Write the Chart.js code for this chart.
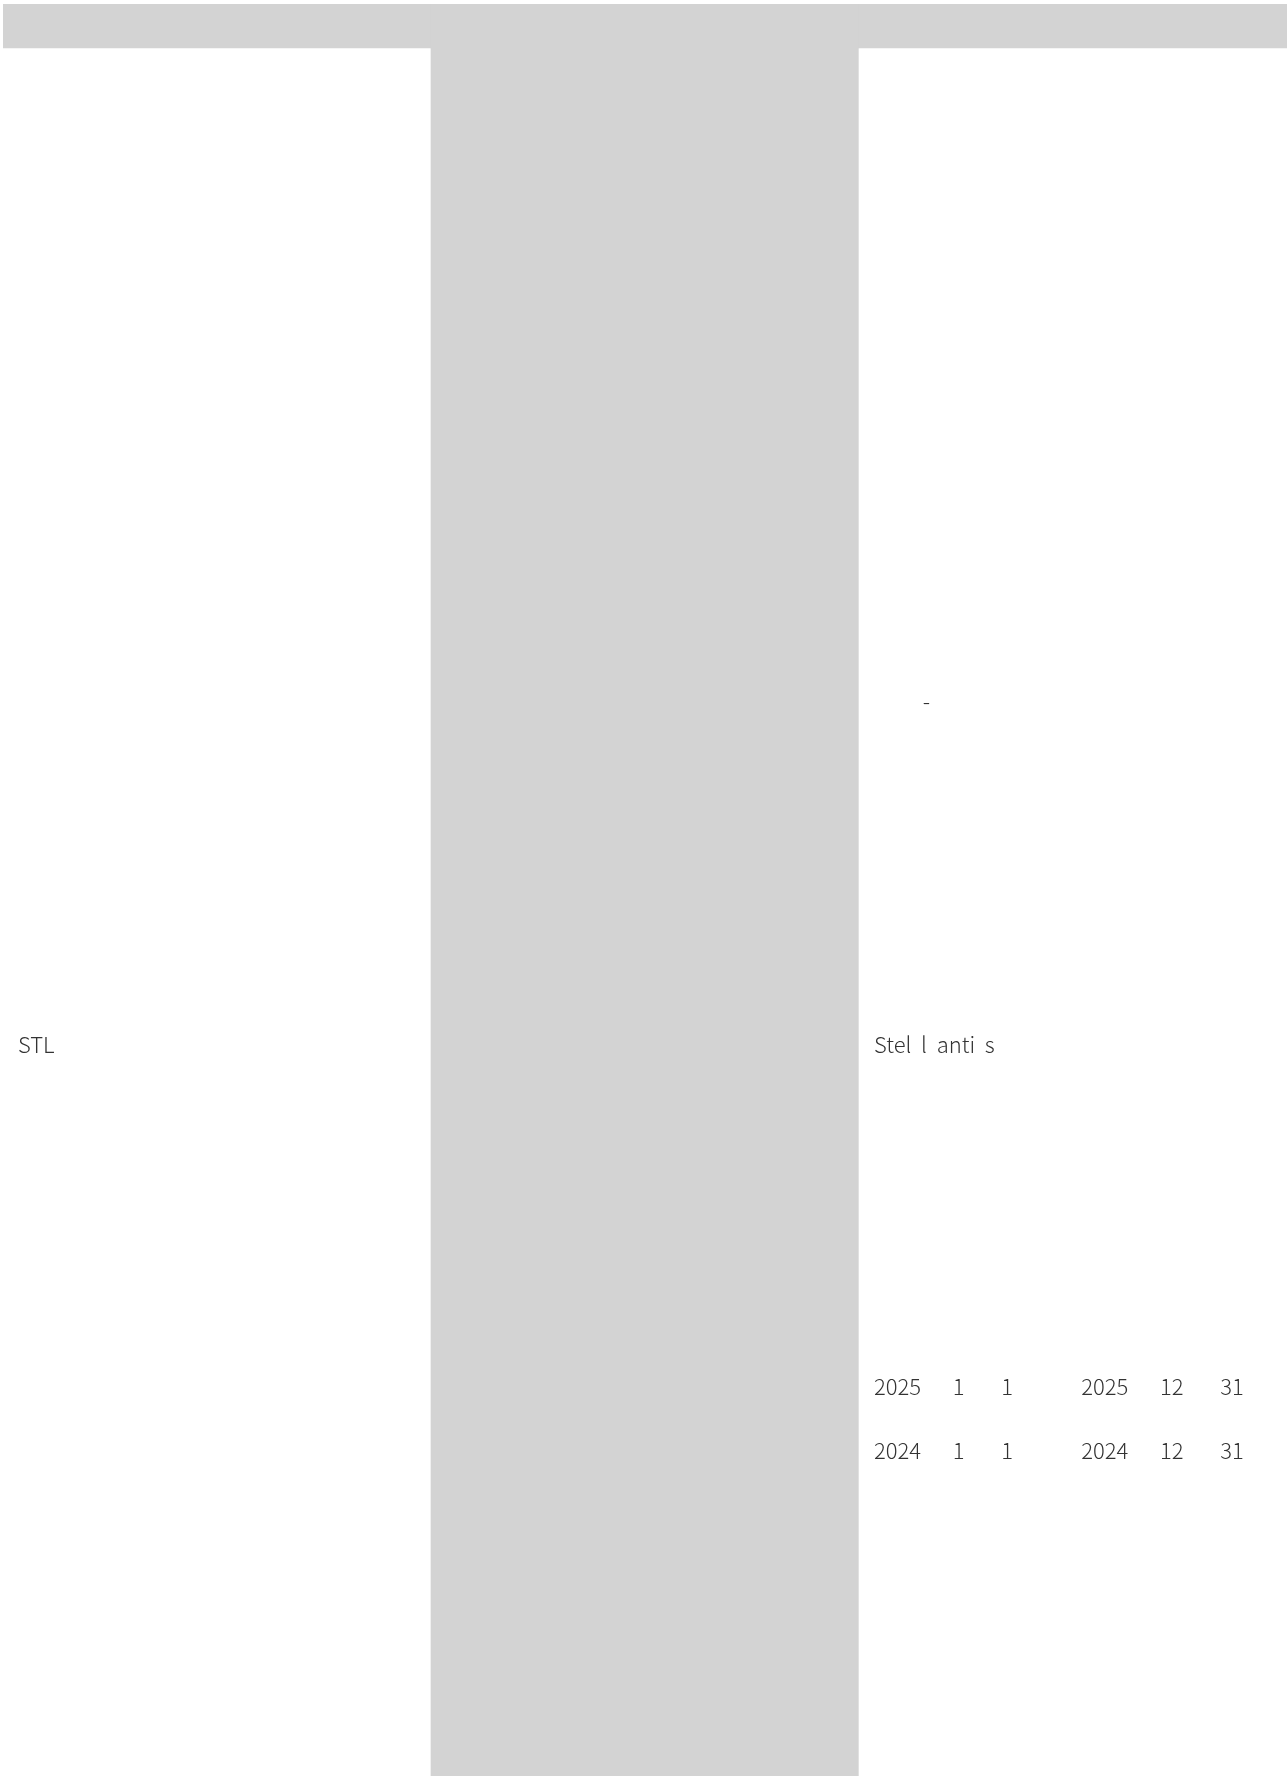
<!DOCTYPE html>
<html>
<head>
<meta charset="utf-8">
<script src="https://cdn.jsdelivr.net/npm/chart.js@4/dist/chart.umd.min.js"></script>
<style>
  html, body { margin: 0; padding: 0; background: #fff; }
  canvas { display: block; }
</style>
</head>
<body>
<canvas id="tabla" width="1287" height="1776"></canvas>
<script>
// columnas de la tabla
const columnas = ["col1", "col2", "col3"];

// fila de cabecera y cuerpo (apilados desde arriba)
const cabecera = [44, 44, 44];
const cuerpo = [1728, 1728, 1728];

// celdas con texto visible (los caracteres CJK salen en blanco en la referencia)
const textos = [
    "\u3000\u3000 -",
    "STL",
    "Stel  l  anti  s",
    "2025 \u3000 1  \u3000 1  \u3000 \u3000  2025 \u3000 12  \u3000 31 \u3000",
    "2024 \u3000 1  \u3000 1  \u3000 \u3000  2024 \u3000 12  \u3000 31 \u3000"
];
const columnaTexto = [2, 0, 2, 2, 2];
const filaTexto = [698, 1041, 1041, 1383, 1447];

const GRIS = "#d3d3d3";

// dibuja los textos de las celdas usando las escalas
const textoCeldas = {
    id: "textoCeldas",
    afterDraw(chart) {
        const ctx = chart.ctx;
        const x = chart.scales.x;
        const y = chart.scales.y;
        const anchoCol = chart.chartArea.width / columnas.length;
        ctx.save();
        ctx.font = '300 22px "Noto Sans CJK SC", "Noto Sans", sans-serif';
        ctx.fillStyle = "#333";
        ctx.textAlign = "left";
        ctx.textBaseline = "middle";
        textos.forEach(function (t, i) {
            const px = x.getPixelForValue(columnaTexto[i]) - anchoCol / 2 + 15;
            const py = y.getPixelForValue(filaTexto[i]);
            ctx.fillText(t, px, py);
        });
        ctx.restore();
    }
};

new Chart(document.getElementById("tabla").getContext("2d"), {
    type: "bar",
    data: {
        labels: columnas,
        datasets: [
            {
                label: "cabecera",
                data: cabecera,
                backgroundColor: GRIS,
                borderWidth: 0,
                barPercentage: 1,
                categoryPercentage: 1
            },
            {
                label: "cuerpo",
                data: cuerpo,
                backgroundColor: ["#ffffff", GRIS, "#ffffff"],
                borderWidth: 0,
                barPercentage: 1,
                categoryPercentage: 1
            }
        ]
    },
    options: {
        responsive: false,
        animation: false,
        layout: { padding: { left: 3, top: 4, right: 0, bottom: 0 } },
        plugins: {
            legend: { display: false },
            tooltip: { enabled: false }
        },
        scales: {
            x: { display: false, stacked: true },
            y: { display: false, stacked: true, reverse: true, min: 0, max: 1772 }
        }
    },
    plugins: [textoCeldas]
});
</script>
</body>
</html>
